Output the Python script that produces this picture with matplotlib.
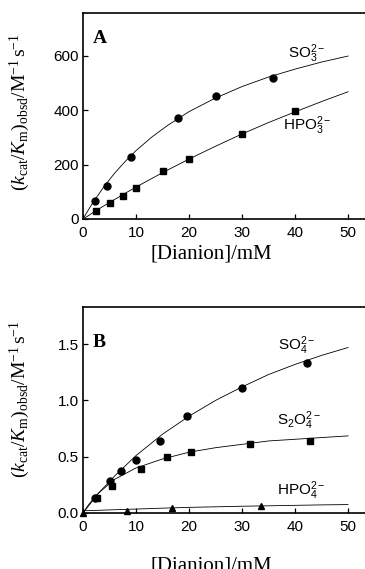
import numpy as np
import matplotlib
matplotlib.use('Agg')
import matplotlib.pyplot as plt

plt.rcParams['font.family'] = ['Liberation Sans', 'DejaVu Sans']
plt.rcParams['mathtext.fontset'] = 'custom'
plt.rcParams['mathtext.rm'] = 'Liberation Serif'
plt.rcParams['mathtext.it'] = 'Liberation Serif:italic'
plt.rcParams['mathtext.sf'] = 'Liberation Sans'

# panel A: points
so3_x = [2.2, 4.5, 9.0, 18.0, 25.0, 35.8]
so3_y = [65, 122, 228, 370, 452, 517]
hpo3_x = [2.5, 5.0, 7.5, 10.0, 15.0, 20.0, 30.0, 40.0]
hpo3_y = [28, 60, 85, 113, 177, 220, 313, 395]

# panel A: fitted curves
fitA_x = [0, 1, 2, 3, 4, 6, 8, 10, 13, 16, 20, 25, 30, 35, 40, 45, 50]
so3_fit = [0, 33, 64, 92, 120, 169, 212, 251, 301, 344, 394, 444, 486, 521, 550, 576, 598]
hpo3_fit = [0, 12, 25, 37, 49, 72, 95, 117, 149, 180, 220, 267, 312, 354, 393, 431, 467]

# panel B: points
so4_x = [2.2, 5.0, 7.2, 10.0, 14.6, 19.7, 30.0, 42.3]
so4_y = [0.13, 0.28, 0.37, 0.47, 0.64, 0.86, 1.11, 1.33]
s2o4_x = [2.7, 5.4, 11.0, 15.8, 20.3, 31.5, 42.8]
s2o4_y = [0.13, 0.24, 0.39, 0.50, 0.54, 0.61, 0.64]
hpo4_x = [0.0, 8.3, 16.8, 33.6]
hpo4_y = [0.0, 0.02, 0.04, 0.06]

# panel B: fitted curves
fitB_x = [0, 1, 2, 3, 4, 6, 8, 10, 15, 20, 25, 30, 35, 40, 45, 50]
so4_fit = [0, 0.06, 0.12, 0.18, 0.23, 0.33, 0.42, 0.51, 0.70, 0.86, 1.00, 1.12, 1.23, 1.32, 1.40, 1.47]
s2o4_fit = [0, 0.07, 0.13, 0.18, 0.22, 0.30, 0.35, 0.40, 0.48, 0.54, 0.58, 0.61, 0.64, 0.655, 0.67, 0.685]
hpo4_fit = [0.02, 0.021, 0.023, 0.024, 0.026, 0.029, 0.032, 0.035, 0.043, 0.05, 0.055, 0.06, 0.064, 0.068, 0.072, 0.075]

xticks = [0, 10, 20, 30, 40, 50]
ylabel = r'$(k_{\mathrm{cat}}/K_{\mathrm{m}})_{\mathrm{obsd}}/\mathrm{M}^{-1}\,\mathrm{s}^{-1}$'
xlabel = '[Dianion]/mM'

W, H = 365, 569
fig = plt.figure(figsize=(W / 100, H / 100), dpi=100)


def make_axes(top_px, bottom_px):
    left = 83 / W
    ax = fig.add_axes([left, 1 - bottom_px / H, 1 - left, (bottom_px - top_px) / H])
    ax.spines['right'].set_visible(False)
    for s in ['left', 'top', 'bottom']:
        ax.spines[s].set_linewidth(1.2)
    ax.tick_params(direction='in', length=3.5, width=0.9, labelsize=11, pad=3,
                   labelfontfamily='Liberation Sans')
    ax.tick_params(axis='x', pad=5)
    ax.set_xlim(0, 53.2)
    ax.set_xticks(xticks)
    return ax


lw = 0.6

axA = make_axes(13, 219)
axA.plot(fitA_x, so3_fit, color='black', lw=lw)
axA.plot(fitA_x, hpo3_fit, color='black', lw=lw)
axA.plot(so3_x, so3_y, 'o', color='black', ms=5)
axA.plot(hpo3_x, hpo3_y, 's', color='black', ms=4)
axA.set_ylim(0, 756)
axA.set_yticks([0, 200, 400, 600])
axA.text(1.8, 695, 'A', fontfamily='Liberation Serif', fontweight='bold', fontsize=14, va='top')
axA.text(38.7, 607, r'$\mathsf{SO_3^{2-}}$', fontsize=11, va='center')
axA.text(37.7, 342, r'$\mathsf{HPO_3^{2-}}$', fontsize=11, va='center')
axA.set_ylabel(ylabel, fontsize=14)
axA.yaxis.set_label_coords(-0.18, 0.52)
axA.set_xlabel(xlabel, fontfamily='Liberation Serif', fontsize=15, va='top')
axA.xaxis.set_label_coords(0.455, -0.125)

axB = make_axes(307, 513)
axB.plot(fitB_x, so4_fit, color='black', lw=lw)
axB.plot(fitB_x, s2o4_fit, color='black', lw=lw)
axB.plot(fitB_x, hpo4_fit, color='black', lw=lw)
axB.plot(so4_x, so4_y, 'o', color='black', ms=5)
axB.plot(s2o4_x, s2o4_y, 's', color='black', ms=4)
axB.plot(hpo4_x, hpo4_y, '^', color='black', ms=4.5, clip_on=False)
axB.set_ylim(0, 1.83)
axB.set_yticks([0, 0.5, 1.0, 1.5])
axB.set_yticklabels(['0.0', '0.5', '1.0', '1.5'])
axB.text(1.8, 1.59, 'B', fontfamily='Liberation Serif', fontweight='bold', fontsize=14, va='top')
axB.text(36.8, 1.49, r'$\mathsf{SO_4^{2-}}$', fontsize=11, va='center')
axB.text(36.6, 0.82, r'$\mathsf{S_2O_4^{2-}}$', fontsize=11, va='center')
axB.text(36.6, 0.20, r'$\mathsf{HPO_4^{2-}}$', fontsize=11, va='center')
axB.set_ylabel(ylabel, fontsize=14)
axB.yaxis.set_label_coords(-0.18, 0.55)
axB.set_xlabel(xlabel, fontfamily='Liberation Serif', fontsize=15, va='top')
axB.xaxis.set_label_coords(0.455, -0.21)

fig.savefig('out.png', dpi=100)
